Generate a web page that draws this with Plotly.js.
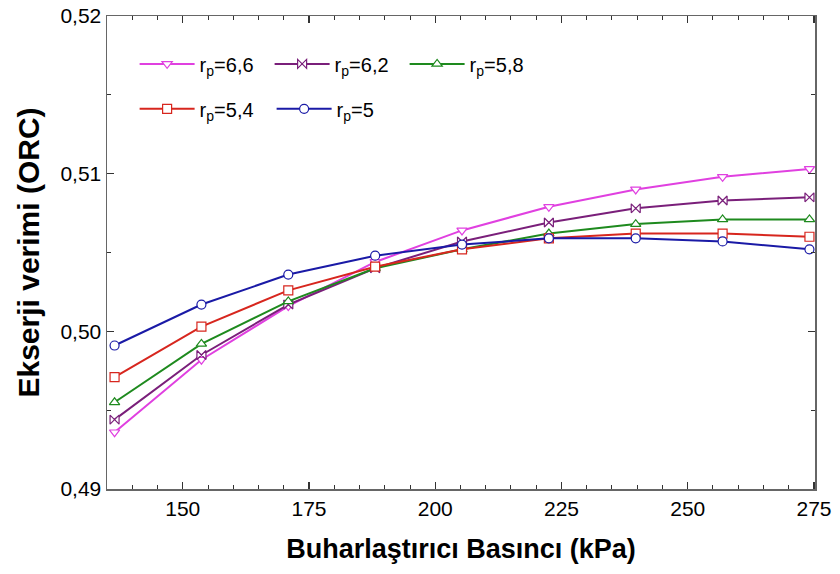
<!DOCTYPE html>
<html>
<head>
<meta charset="utf-8">
<script src="https://cdn.plot.ly/plotly-3.0.1.min.js"></script>
<style>html,body{margin:0;padding:0;background:#fff;}#chart{width:840px;height:574px;}</style>
</head>
<body>
<div id="chart"></div>
<script>
// Evaporator pressure (kPa)
const pressure = [136.5, 153.7, 170.9, 188.1, 205.3, 222.5, 239.7, 256.9, 274.1];
// Exergy efficiency for each pressure ratio
const rp66 = [0.4936, 0.4982, 0.5016, 0.5044, 0.5064, 0.5079, 0.5090, 0.5098, 0.5103];
const rp62 = [0.4944, 0.4985, 0.5017, 0.5040, 0.5057, 0.5069, 0.5078, 0.5083, 0.5085];
const rp58 = [0.4955, 0.4992, 0.5019, 0.5040, 0.5052, 0.5062, 0.5068, 0.5071, 0.5071];
const rp54 = [0.4971, 0.5003, 0.5026, 0.5041, 0.5052, 0.5059, 0.5062, 0.5062, 0.5060];
const rp50 = [0.4991, 0.5017, 0.5036, 0.5048, 0.5055, 0.5059, 0.5059, 0.5057, 0.5052];
const seriesNames = ["r<sub>p</sub>=6,6", "r<sub>p</sub>=6,2", "r<sub>p</sub>=5,8", "r<sub>p</sub>=5,4", "r<sub>p</sub>=5"];
const xTickVals = [150, 175, 200, 225, 250, 275];
const yTickVals = [0.49, 0.50, 0.51, 0.52];

const styles = [
  {color: "#e040e0", symbol: "triangle-down", legend: "legend"},
  {color: "#7a1f7a", symbol: "bowtie", legend: "legend"},
  {color: "#1e8a1e", symbol: "triangle-up", legend: "legend"},
  {color: "#d7261e", symbol: "square", legend: "legend2"},
  {color: "#1a1aa6", symbol: "circle", legend: "legend2"}
];
const ys = [rp66, rp62, rp58, rp54, rp50];

const traces = ys.map((y, i) => ({
  x: pressure, y: y, name: seriesNames[i], type: "scatter", mode: "lines+markers",
  legend: styles[i].legend,
  line: {color: styles[i].color, width: 2},
  marker: {symbol: styles[i].symbol, size: 9, color: "#ffffff", line: {color: styles[i].color, width: 1.2}}
}));

const axisCommon = {
  showline: true, linecolor: "#666", linewidth: 1.5, mirror: "ticks",
  ticks: "inside", ticklen: 7, tickwidth: 1.2, tickcolor: "#333",
  showgrid: false, zeroline: false,
  tickfont: {family: "Liberation Sans, Arial, sans-serif", size: 21, color: "#000"}
};

const legendFont = {family: "Liberation Sans, Arial, sans-serif", size: 20, color: "#000"};

const layout = {
  width: 840, height: 574,
  margin: {l: 107, r: 25, t: 16, b: 85},
  paper_bgcolor: "#fff", plot_bgcolor: "#fff",
  separators: ", ",
  showlegend: true,
  xaxis: Object.assign({}, axisCommon, {
    range: [135, 275.2], tickmode: "array", tickvals: xTickVals,
    minor: {dtick: 5, ticks: "inside", ticklen: 4, tickcolor: "#333", tickwidth: 1},
    title: {text: "<b>Buharlaştırıcı Basıncı (kPa)</b>", standoff: 20,
      font: {family: "Liberation Sans, Arial, sans-serif", size: 27, color: "#000"}}
  }),
  yaxis: Object.assign({}, axisCommon, {
    range: [0.49, 0.52], tickmode: "array", tickvals: yTickVals, tickformat: ".2f",
    minor: {dtick: 0.005, ticks: "inside", ticklen: 4, tickcolor: "#333", tickwidth: 1},
    title: {text: "<b>Ekserji verimi (ORC)</b>", standoff: 12,
      font: {family: "Liberation Sans, Arial, sans-serif", size: 30, color: "#000"}}
  }),
  legend: {
    orientation: "h", x: 0.039, y: 0.94, xanchor: "left", yanchor: "top",
    bgcolor: "rgba(0,0,0,0)", entrywidth: 65, itemwidth: 55, traceorder: "normal",
    font: legendFont
  },
  legend2: {
    orientation: "h", x: 0.039, y: 0.845, xanchor: "left", yanchor: "top",
    bgcolor: "rgba(0,0,0,0)", entrywidth: 67, itemwidth: 55, traceorder: "normal",
    font: legendFont
  }
};

Plotly.newPlot("chart", traces, layout, {displayModeBar: false, staticPlot: true});
</script>
</body>
</html>
